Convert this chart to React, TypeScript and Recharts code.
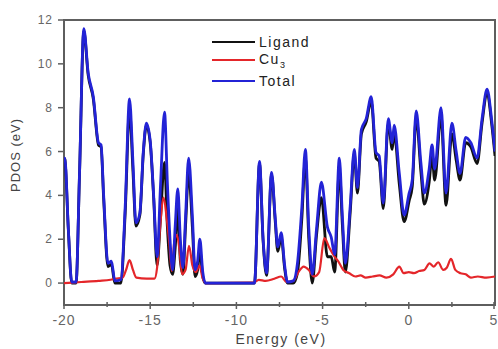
import { LineChart, Line, XAxis, YAxis, ReferenceArea } from "recharts";

// energy grid shared by Total and Ligand (eV)
const energy = [
  -20, -19.95, -19.75, -19.55, -19.3, -19.1, -18.85, -18.6, -18.3, -18.0,
  -17.85, -17.7, -17.45, -17.25, -17.05, -16.7, -16.45, -16.2, -16.0, -15.83,
  -15.6, -15.4, -15.22, -15.0, -14.8, -14.6, -14.4, -14.17, -14.0, -13.85,
  -13.7, -13.55, -13.4, -13.25, -13.1, -12.95, -12.77, -12.55, -12.4, -12.25,
  -12.12, -11.95, -11.8, -8.95, -8.66, -8.45, -8.25, -7.96, -7.75, -7.6,
  -7.4, -7.2, -7.04, -6.7, -6.46, -6.2, -6.0, -5.8, -5.6, -5.35,
  -5.07, -4.72, -4.5, -4.3, -4.03, -3.85, -3.68, -3.4, -3.16, -2.98,
  -2.75, -2.47, -2.18, -1.9, -1.72, -1.48, -1.19, -0.96, -0.85, -0.55,
  -0.27, 0.02, 0.2, 0.43, 0.7, 0.9, 1.18, 1.35, 1.5, 1.87,
  2.16, 2.5, 2.75, 2.97, 3.3, 3.6, 3.96, 4.25, 4.54, 4.8,
  5.0,
];

const total = [
  5.7, 5.7, 2.5, 0.05, 0.05, 5.0, 11.6, 9.6, 8.5, 6.4,
  6.3, 4.0, 0.9, 1.0, 0.1, 0.15, 3.5, 8.4, 5.5, 2.75,
  3.2, 6.0, 7.3, 6.5, 4.0, 1.2, 4.5, 7.8, 4.5, 2.0,
  0.6, 2.6, 4.3, 2.0, 0.7, 3.0, 5.7, 3.0, 0.6, 1.0,
  2.0, 0.5, 0, 0, 5.55, 2.0, 0.45, 5.05, 3.0, 1.65,
  2.3, 0.8, 0.05, 0.1, 0.9, 3.5, 6.1, 2.5, 0.4, 2.5,
  4.6, 2.55, 2.1, 1.3, 5.7, 3.0, 0.9, 3.5, 6.1, 4.35,
  7.0, 7.5, 8.5, 5.95, 5.8, 3.65, 7.5, 6.4, 7.2, 5.0,
  3.1, 4.1, 4.7, 7.85, 5.5, 4.1, 5.2, 6.3, 5.2, 8.0,
  4.1, 7.3, 6.0, 5.0, 6.65, 6.4, 5.7, 7.5, 8.85, 7.5,
  6.0,
];

const ligand = [
  5.7, 5.65, 2.45, 0, 0, 4.95, 11.5, 9.5, 8.4, 6.3,
  6.2, 3.85, 0.75, 0.85, 0, 0, 3.2, 7.9, 5.1, 2.6,
  3.1, 5.9, 7.2, 6.4, 3.9, 0.8, 3.0, 5.5, 2.5, 0.8,
  0.4, 1.6, 3.4, 1.0, 0.4, 2.6, 5.0, 2.5, 0.3, 0.6,
  1.5, 0.3, 0, 0, 5.45, 1.9, 0.35, 4.95, 2.85, 1.45,
  2.1, 0.65, 0, 0, 0.45, 3.0, 5.7, 2.0, 0, 2.2,
  3.9, 1.2, 1.2, 0.5, 5.2, 2.6, 0.5, 3.2, 5.9, 4.1,
  6.8, 7.35, 8.3, 5.7, 5.55, 3.4, 7.3, 6.1, 6.9, 4.5,
  2.8, 3.75, 4.4, 7.55, 5.1, 3.6, 4.6, 5.8, 4.7, 7.6,
  3.55, 6.8, 5.6, 4.7, 6.4, 6.2, 5.45, 7.3, 8.7, 7.3,
  5.8,
];

// Cu3 has its own grid
const cuEnergy = [
  -20, -19.0, -18.0, -17.3, -17.0, -16.6, -16.4, -16.2, -16.0, -15.8,
  -15.2, -14.75, -14.6, -14.45, -14.22, -14.05, -13.9, -13.75, -13.6, -13.45,
  -13.3, -13.15, -12.95, -12.75, -12.55, -12.35, -12.15, -11.95, -11.8, -9.0,
  -8.7, -8.3, -7.8, -7.4, -7.1, -6.7, -6.4, -6.1, -5.8, -5.5,
  -5.2, -4.9, -4.6, -4.3, -4.1, -3.8, -3.45, -3.1, -2.8, -2.5,
  -2.1, -1.7, -1.3, -0.9, -0.55, -0.3, 0.0, 0.3, 0.6, 0.9,
  1.2, 1.45, 1.7, 2.0, 2.2, 2.45, 2.7, 3.0, 3.3, 3.6,
  4.0, 4.5, 5.0,
];

const cu = [
  0.0, 0.05, 0.1, 0.15, 0.2, 0.25, 0.6, 1.05, 0.6, 0.25,
  0.2, 0.2, 0.7, 2.3, 3.9, 3.0, 1.9, 0.55, 1.9, 2.2,
  1.5, 0.4, 0.6, 1.7, 0.8, 0.5, 0.8, 0.2, 0.0, 0.02,
  0.15, 0.1, 0.2, 0.3, 0.05, 0.1, 0.5, 0.75, 0.6, 0.3,
  0.5, 2.05, 1.6, 1.2, 1.0, 0.6, 0.45, 0.3, 0.35, 0.25,
  0.3, 0.35, 0.25, 0.4, 0.75, 0.45, 0.5, 0.45, 0.55, 0.6,
  0.9, 0.75, 0.95, 0.6, 0.7, 1.1, 0.6, 0.45, 0.4, 0.25,
  0.3, 0.25, 0.3,
];

const xTicks = [-20, -17.5, -15, -12.5, -10, -7.5, -5, -2.5, 0, 2.5, 5];
const yTicks = [0, 1, 2, 3, 4, 5, 6, 7, 8, 9, 10, 11, 12];

const totalData = energy.map((e, i) => ({ e, v: total[i] }));
const ligandData = energy.map((e, i) => ({ e, v: ligand[i] }));
const cuData = cuEnergy.map((e, i) => ({ e, v: cu[i] }));

const axisColor = "#5e5e5e";
const labelColor = "#666";
const font = "'Liberation Sans', Arial, sans-serif";

const LeftTick = (props: any) => {
  const { x, y, payload } = props;
  const v = payload.value;
  const major = v % 2 === 0;
  return (
    <g>
      <line x1={x} x2={x - (major ? 6 : 3)} y1={y} y2={y} stroke={axisColor} strokeWidth={1.5} />
      {major && (
        <text x={x - 11} y={y + 4} textAnchor="end" fontSize={12} letterSpacing={1} fill={labelColor} fontFamily={font}>
          {v}
        </text>
      )}
    </g>
  );
};

const RightTick = (props: any) => {
  const { x, y, payload } = props;
  const major = payload.value % 2 === 0;
  return <line x1={x} x2={x - (major ? 5 : 3)} y1={y} y2={y} stroke={axisColor} strokeWidth={1.5} />;
};

const BottomTick = (props: any) => {
  const { x, y, payload } = props;
  const v = payload.value;
  const major = v % 5 === 0;
  return (
    <g>
      <line x1={x} x2={x} y1={y - 3} y2={y + (major ? 4 : 2)} stroke={axisColor} strokeWidth={1.5} />
      {major && (
        <text x={x} y={y + 20} textAnchor="middle" fontSize={14} letterSpacing={1} fill={labelColor} fontFamily={font}>
          {v}
        </text>
      )}
    </g>
  );
};

const TopTick = (props: any) => {
  const { x, y } = props;
  return <line x1={x} x2={x} y1={y} y2={y + 4} stroke={axisColor} strokeWidth={1.5} />;
};

const legendRows = [
  { name: "Ligand", color: "#111", sub: "" },
  { name: "Cu", color: "#e4262a", sub: "3" },
  { name: "Total", color: "#2323d6", sub: "" },
];
const legendTops = [42, 60, 81];

export default function App() {
  return (
    <div style={{ position: "absolute", left: 0, top: 0, width: 498, height: 349, background: "#fff" }}>
      <LineChart width={498} height={349} margin={{ top: 20, right: 3, bottom: 0, left: 0 }}>
        <XAxis
          dataKey="e"
          type="number"
          domain={[-20, 5]}
          ticks={xTicks}
          allowDataOverflow
          height={44}
          axisLine={false}
          tickSize={0}
          tickMargin={0}
          tickLine={false}
          tick={<BottomTick />}
          label={() => (
            <text x={281} y={344} textAnchor="middle" fontSize={14} letterSpacing={1.5} fill="#444" fontFamily={font}>
              Energy (eV)
            </text>
          )}
        />
        <XAxis
          xAxisId="top"
          orientation="top"
          type="number"
          domain={[-20, 5]}
          ticks={xTicks}
          allowDataOverflow
          height={0}
          axisLine={false}
          tickSize={0}
          tickMargin={0}
          tickLine={false}
          tick={<TopTick />}
        />
        <YAxis
          type="number"
          domain={[-1, 12]}
          ticks={yTicks}
          allowDataOverflow
          width={64}
          axisLine={false}
          tickSize={0}
          tickMargin={0}
          tickLine={false}
          tick={<LeftTick />}
          label={() => (
            <text
              x={20}
              y={155}
              transform="rotate(-90 20 155)"
              textAnchor="middle"
              fontSize={13}
              letterSpacing={1}
              fill="#444"
              fontFamily={font}
            >
              PDOS (eV)
            </text>
          )}
        />
        <YAxis
          yAxisId="right"
          orientation="right"
          type="number"
          domain={[-1, 12]}
          ticks={yTicks}
          allowDataOverflow
          width={0}
          axisLine={false}
          tickSize={0}
          tickMargin={0}
          tickLine={false}
          tick={<RightTick />}
        />
        <ReferenceArea
          x1={-20}
          x2={5}
          y1={-1}
          y2={12}
          fill="none"
          fillOpacity={0}
          stroke={axisColor}
          strokeWidth={2}
          strokeOpacity={1}
          ifOverflow="visible"
        />
        <Line data={ligandData} dataKey="v" type="monotone" stroke="#111" strokeWidth={2.8} dot={false} isAnimationActive={false} />
        <Line data={cuData} dataKey="v" type="monotone" stroke="#e4262a" strokeWidth={2.2} dot={false} isAnimationActive={false} />
        <Line data={totalData} dataKey="v" type="monotone" stroke="#2323d6" strokeWidth={2.8} dot={false} isAnimationActive={false} />
      </LineChart>
      {legendRows.map((r, i) => (
        <div
          key={r.name}
          style={{
            position: "absolute",
            left: 212,
            top: legendTops[i] - 9,
            height: 18,
            display: "flex",
            alignItems: "center",
            fontFamily: font,
            fontSize: 14,
            letterSpacing: 1.5,
            color: "#222",
          }}
        >
          <div style={{ width: 43, height: 0, borderTop: `2.5px solid ${r.color}`, marginRight: 4 }} />
          <span>
            {r.name}
            {r.sub && <sub style={{ fontSize: 9 }}>{r.sub}</sub>}
          </span>
        </div>
      ))}
    </div>
  );
}
